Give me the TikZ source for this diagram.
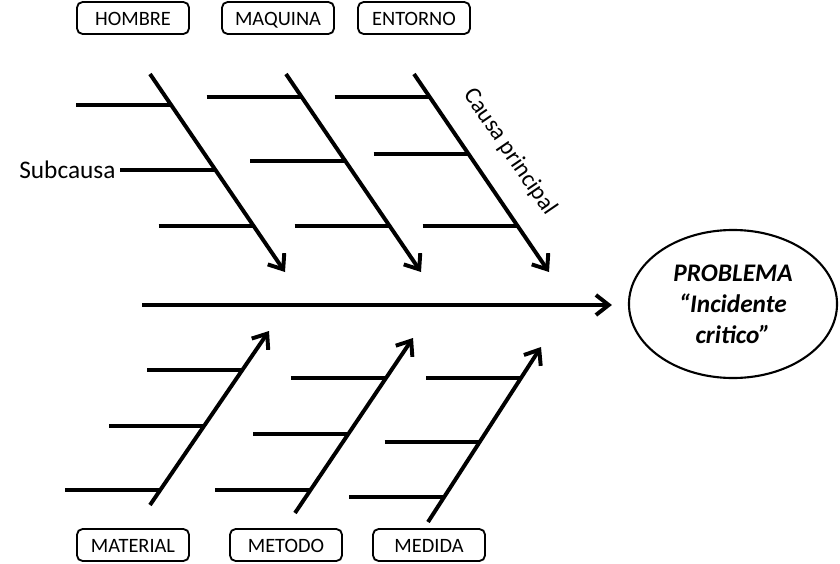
\documentclass[tikz,border=0pt]{standalone}
\usepackage{fontspec}
\setmainfont{Carlito}
\usetikzlibrary{calc, arrows.meta, shapes.geometric}

\begin{document}
\begin{tikzpicture}[x={(0.025cm,0)}, y={(0,-0.025cm)},
    bone/.style={line width=2.8pt},
    causa/.style={bone, -{Straight Barb[length=3.2mm,width=5mm]}},
    etiqueta/.style={draw, line width=1.3pt, rounded corners=4pt, minimum width=2.8cm, minimum height=0.8cm,
                     text height=11.5pt, text depth=1pt, font=\fontsize{14.5}{17}\selectfont}]
  \useasboundingbox (0,0) rectangle (840,564);

  % categorias
  \node[etiqueta] (hombre)   at (133,18) {HOMBRE};
  \node[etiqueta] (maquina)  at (278,18) {MAQUINA};
  \node[etiqueta] (entorno)  at (414,18) {ENTORNO};
  \node[etiqueta] (material) at (133,545) {MATERIAL};
  \node[etiqueta] (metodo)   at (286,545) {METODO};
  \node[etiqueta] (medida)   at (429,545) {MEDIDA};

  % efecto
  \node[ellipse, draw, line width=1.5pt, minimum width=5.2cm, minimum height=3.7cm, align=center,
        font=\fontsize{18}{22}\selectfont\bfseries\itshape] (prob) at (733,304)
        {PROBLEMA\\“Incidente\\critico”};
  \coordinate (eje) at (142,305);
  \draw[causa, shorten >=4mm] (eje) -- (eje -| prob.west);

  % causas principales
  \coordinate (c1s) at (150,74);  \coordinate (c1e) at (285,272);
  \coordinate (c2s) at (286,74);  \coordinate (c2e) at (421,272);
  \coordinate (c3s) at (414,74);  \coordinate (c3e) at (549,272);
  \coordinate (d1s) at (150,505); \coordinate (d1e) at (269,331);
  \coordinate (d2s) at (295,513); \coordinate (d2e) at (413,338);
  \coordinate (d3s) at (428,522); \coordinate (d3e) at (541,347);
  \foreach \c in {c1,c2,c3,d1,d2,d3}
    \draw[causa] (\c s) -- (\c e);

  % subcausas
  \foreach \c/\f [count=\k] in {c1/0.157, c1/0.485, c1/0.768, c2/0.116, c2/0.439, c2/0.768,
                                 c3/0.116, c3/0.404, c3/0.768, d1/0.776, d1/0.454, d1/0.086,
                                 d2/0.771, d2/0.451, d2/0.131, d3/0.823, d3/0.457, d3/0.143} {
    \coordinate (r\k) at ($(\c s)!\f!(\c e)$);
    \coordinate (r\k l) at ($(r\k)+(-95,0)$);
    \draw[bone] (r\k l) -- (r\k);
  }

  \node[anchor=east, font=\fontsize{18}{22}\selectfont] (sub) at (r2l) {Subcausa};
  \node[rotate=-55.7, font=\fontsize{17}{20}\selectfont] (principal) at (510,152) {Causa principal};
\end{tikzpicture}
\end{document}
